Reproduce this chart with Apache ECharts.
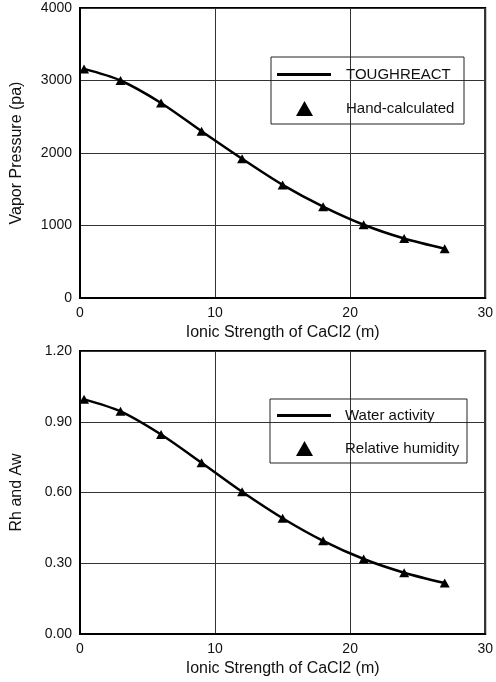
<!DOCTYPE html>
<html lang="en">
<head>
    <meta charset="UTF-8">
    <title>Vapor pressure / Rh</title>
    <script src="https://cdn.jsdelivr.net/npm/echarts@6/dist/echarts.min.js"></script>
    <style>
        body { margin: 0; background: #fff; }
    </style>
</head>
<body>
    <div id="main" style="width: 496px;height: 682px;"></div>
</body>
<script type="text/javascript">
    // ionic strength of CaCl2 (m)
    var ionic = [0.3, 3, 6, 9, 12, 15, 18, 21, 24, 27];
    // vapor pressure (pa)
    var vaporToughreact = [3160, 3000, 2690, 2300, 1920, 1560, 1260, 1010, 820, 680];
    var vaporHand = [3160, 3000, 2690, 2300, 1920, 1560, 1260, 1010, 820, 680];
    // water activity / relative humidity
    var waterActivity = [0.995, 0.944, 0.846, 0.726, 0.603, 0.491, 0.395, 0.318, 0.260, 0.216];
    var relHumidity = [0.995, 0.944, 0.846, 0.726, 0.603, 0.491, 0.395, 0.318, 0.260, 0.216];

    function pairs(xs, ys) {
        return xs.map(function (x, i) { return [x, ys[i]]; });
    }

    var font = 'Liberation Sans, Arial, sans-serif';
    var chart = echarts.init(document.getElementById('main'));

    function xAxisOpt(idx) {
        return {
            type: 'value', gridIndex: idx, min: 0, max: 30, interval: 10,
            name: 'Ionic Strength of CaCl2 (m)', nameLocation: 'middle', nameGap: 27,
            nameTextStyle: { color: '#111', fontSize: 16, fontFamily: font },
            axisLine: { lineStyle: { color: '#000', width: 2 } },
            axisTick: { show: false },
            axisLabel: { color: '#111', fontSize: 14, fontFamily: font, margin: 8 },
            splitLine: { lineStyle: { color: '#333', width: 1 } }
        };
    }

    var legendText = { color: '#111', fontSize: 15, fontFamily: font };

    var option = {
        animation: false,
        grid: [
            { left: 80, top: 8, width: 408, height: 290, show: true, borderColor: '#000', borderWidth: 2 },
            { left: 80, top: 351, width: 407, height: 283, show: true, borderColor: '#000', borderWidth: 2 }
        ],
        xAxis: [xAxisOpt(0), xAxisOpt(1)],
        yAxis: [
            {
                type: 'value', gridIndex: 0, min: 0, max: 4000, interval: 1000,
                name: 'Vapor Pressure (pa)', nameLocation: 'middle', nameGap: 55,
                nameTextStyle: { color: '#111', fontSize: 16, fontFamily: font },
                axisLine: { show: true, lineStyle: { color: '#000', width: 2 } },
                axisTick: { show: false },
                axisLabel: {
                    color: '#111', fontSize: 14, fontFamily: font, margin: 8,
                    formatter: function (v) { return String(v); }
                },
                splitLine: { lineStyle: { color: '#333', width: 1 } }
            },
            {
                type: 'value', gridIndex: 1, min: 0, max: 1.2, interval: 0.3,
                name: 'Rh and Aw', nameLocation: 'middle', nameGap: 55,
                nameTextStyle: { color: '#111', fontSize: 16, fontFamily: font },
                axisLine: { show: true, lineStyle: { color: '#000', width: 2 } },
                axisTick: { show: false },
                axisLabel: {
                    color: '#111', fontSize: 14, fontFamily: font, margin: 8,
                    formatter: function (v) { return v.toFixed(2); }
                },
                splitLine: { lineStyle: { color: '#333', width: 1 } }
            }
        ],
        legend: [
            {
                data: [{ name: 'TOUGHREACT', icon: 'rect' }], left: 277, top: 67, padding: 0,
                itemWidth: 54, itemHeight: 3, itemStyle: { color: '#000' },
                textStyle: Object.assign({ padding: [0, 0, 0, 10] }, legendText)
            },
            {
                data: [{ name: 'Hand-calculated', icon: 'triangle' }], left: 296, top: 101, padding: 0,
                itemWidth: 17, itemHeight: 15, itemStyle: { color: '#000' },
                textStyle: Object.assign({ padding: [0, 0, 0, 28] }, legendText)
            },
            {
                data: [{ name: 'Water activity', icon: 'rect' }], left: 277, top: 408, padding: 0,
                itemWidth: 54, itemHeight: 3, itemStyle: { color: '#000' },
                textStyle: Object.assign({ padding: [0, 0, 0, 9] }, legendText)
            },
            {
                data: [{ name: 'Relative humidity', icon: 'triangle' }], left: 296, top: 441, padding: 0,
                itemWidth: 17, itemHeight: 15, itemStyle: { color: '#000' },
                textStyle: Object.assign({ padding: [0, 0, 0, 27] }, legendText)
            }
        ],
        graphic: [
            { type: 'rect', shape: { x: 271, y: 57, width: 193, height: 67 }, style: { fill: 'none', stroke: '#222', lineWidth: 1 }, z: 5 },
            { type: 'rect', shape: { x: 270, y: 399, width: 197, height: 64 }, style: { fill: 'none', stroke: '#222', lineWidth: 1 }, z: 5 }
        ],
        series: [
            {
                name: 'TOUGHREACT', type: 'line', xAxisIndex: 0, yAxisIndex: 0,
                data: pairs(ionic, vaporToughreact), smooth: 0.3, symbol: 'none',
                lineStyle: { color: '#000', width: 2.5 }, itemStyle: { color: '#000' }
            },
            {
                name: 'Hand-calculated', type: 'scatter', xAxisIndex: 0, yAxisIndex: 0,
                data: pairs(ionic, vaporHand), symbol: 'triangle', symbolSize: [10, 9],
                itemStyle: { color: '#000', opacity: 1 }
            },
            {
                name: 'Water activity', type: 'line', xAxisIndex: 1, yAxisIndex: 1,
                data: pairs(ionic, waterActivity), smooth: 0.3, symbol: 'none',
                lineStyle: { color: '#000', width: 2.5 }, itemStyle: { color: '#000' }
            },
            {
                name: 'Relative humidity', type: 'scatter', xAxisIndex: 1, yAxisIndex: 1,
                data: pairs(ionic, relHumidity), symbol: 'triangle', symbolSize: [10, 9],
                itemStyle: { color: '#000', opacity: 1 }
            }
        ]
    };

    chart.setOption(option);
</script>
</html>
